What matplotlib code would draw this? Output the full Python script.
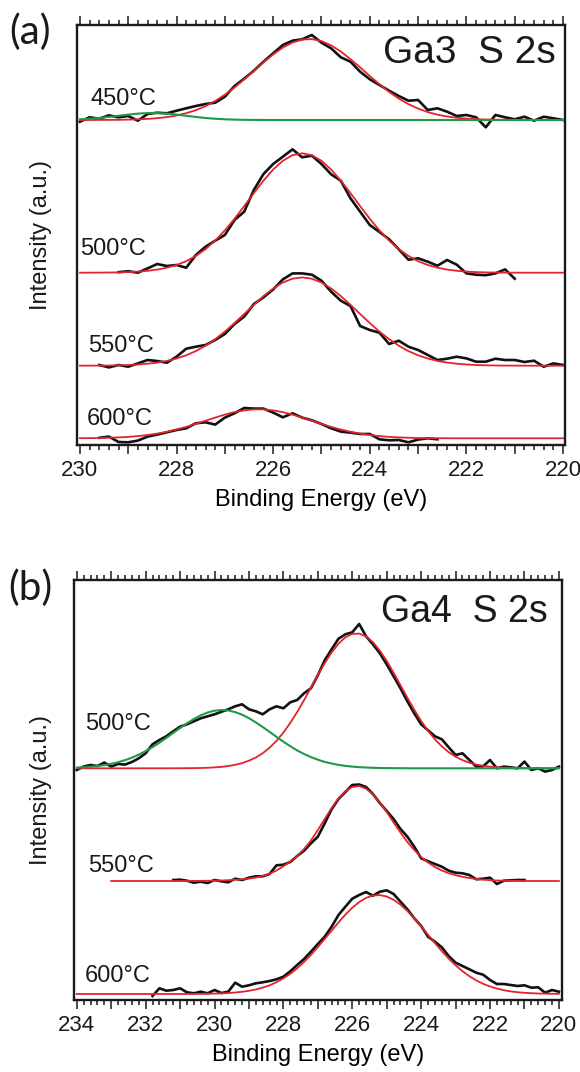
import numpy as np
import matplotlib
matplotlib.use("Agg")
import matplotlib.pyplot as plt
from matplotlib.ticker import MultipleLocator, FuncFormatter

# ------------------------------------------------------------------ data
STEP = 0.2  # eV spacing of the read-off points

# Panel (a): Ga3  S 2s
a_title = "Ga3  S 2s"
a_labels = ["450°C", "500°C", "550°C", "600°C"]
a_offsets = [325.0, 172.3, 79.3, 6.7]
a_black_start = [230.0, 229.2, 229.6, 229.6]
a_fit_start = 230.0

a_black_450 = [-1.7, 2.7, 1.3, 4.7, 2.7, 4.0, -0.7, 6.0, 7.3, 6.7, 9.3, 11.7, 14.0, 16.0, 17.3,
               23.3, 34.0, 41.3, 49.3, 58.3, 66.7, 75.0, 79.3, 80.7, 85.0, 77.3, 71.7, 62.7, 58.3,
               48.3, 40.7, 35.0, 29.3, 24.0, 19.3, 20.0, 10.0, 11.7, 8.3, 4.0, 5.0, 2.7, -7.3, 5.0,
               2.7, 0.7, 3.3, -0.7, 3.3, 1.7, 0.0]
a_black_500 = [0.5, 1.5, 0.0, 4.3, 8.7, 6.7, 7.7, 5.0, 17.7, 26.0, 32.0, 37.7, 52.7, 61.0, 82.7,
               98.7, 108.7, 116.0, 123.4, 115.4, 117.0, 108.7, 98.4, 92.0, 74.4, 61.0, 47.7, 40.7,
               33.4, 23.4, 13.0, 14.4, 11.0, 7.0, 12.7, 8.0, -0.7, -2.0, -2.5, -0.7, 3.3, -6.0]
a_black_550 = [0.7, -1.7, 0.7, -1.0, 2.3, 5.7, 4.7, 3.0, 9.0, 17.0, 19.0, 20.7, 25.7, 31.7, 41.7,
               49.0, 61.7, 68.3, 76.3, 86.3, 92.3, 92.3, 91.0, 85.0, 74.0, 65.0, 59.7, 39.7, 35.7,
               33.0, 21.7, 25.0, 19.0, 15.7, 10.7, 5.7, 7.0, 9.0, 7.3, 4.0, 4.0, 7.0, 5.7, 5.7,
               3.7, 5.0, -1.0, 2.3, 0.7]
a_black_600 = [0.5, 1.7, -3.7, -4.0, -2.3, 1.7, 3.7, 6.0, 8.3, 10.0, 15.0, 16.0, 13.7, 20.7, 25.0,
               30.3, 29.7, 29.7, 25.7, 21.0, 25.0, 20.7, 18.0, 14.3, 10.0, 6.7, 5.7, 4.3, 4.3,
               -1.0, -2.0, -1.7, -4.0, -1.3, 0.0, -1.0]

a_red_450 = [0, 0, 0.1, 0.1, 0.2, 0.4, 0.7, 1.1, 1.8, 2.9, 4.5, 6.8, 9.8, 13.9, 19.0, 25.3, 32.5,
             40.6, 49.1, 57.7, 65.6, 72.4, 77.5, 80.4, 80.9, 78.9, 74.7, 68.5, 60.9, 52.6, 44.0,
             35.7, 28.1, 21.4, 15.8, 11.4, 7.9, 5.3, 3.5, 2.2, 1.4, 0.8, 0.5, 0.3, 0.2, 0.1, 0, 0,
             0, 0, 0]
a_green_450 = [0.7, 1.25, 2.0, 3.1, 4.2, 5.4, 6.4, 6.9, 6.9, 6.4, 5.4, 4.2, 3.1, 2.0, 1.25, 0.7,
               0.37, 0.18, 0.08, 0.03] + [0] * 31
a_red_500 = [0.0, 0.05, 0.1, 0.2, 0.3, 0.6, 1.1, 1.9, 3.1, 5.0, 7.7, 11.5, 16.8, 23.6, 32.1, 42.3,
             53.9, 66.6, 79.6, 92.1, 103.2, 111.9, 117.5, 119.4, 117.5, 111.9, 103.2, 92.1, 79.6,
             66.6, 53.9, 42.3, 32.1, 23.6, 16.8, 11.5, 7.7, 5.0, 3.1, 1.9, 1.1, 0.6, 0.3, 0.2,
             0.1, 0.05, 0, 0, 0, 0, 0]
a_red_550 = [0.03, 0.07, 0.1, 0.2, 0.4, 0.7, 1.2, 2.0, 3.1, 4.8, 7.2, 10.4, 14.6, 20.0, 26.5, 34.1,
             42.6, 51.7, 60.9, 69.6, 77.2, 83.2, 87.0, 88.3, 87.0, 83.2, 77.2, 69.6, 60.9, 51.7,
             42.6, 34.1, 26.5, 20.0, 14.6, 10.4, 7.2, 4.8, 3.1, 2.0, 1.2, 0.7, 0.4, 0.2, 0.1,
             0.07, 0.03, 0, 0, 0, 0]
a_red_600 = [0.1, 0.18, 0.3, 0.55, 0.9, 1.4, 2.2, 3.3, 4.7, 6.5, 8.8, 11.4, 14.4, 17.6, 20.7, 23.7,
             26.2, 27.9, 28.9, 28.9, 27.9, 26.2, 23.7, 20.7, 17.6, 14.4, 11.4, 8.8, 6.5, 4.7, 3.3,
             2.2, 1.4, 0.9, 0.55, 0.3, 0.18, 0.1, 0.05] + [0] * 12

# Panel (b): Ga4  S 2s
b_title = "Ga4  S 2s"
b_labels = ["500°C", "550°C", "600°C"]
b_offsets = [231.7, 119.0, 6.0]
b_black_start = [234.0, 231.2, 231.8]
b_red_start = [234.0, 233.0, 234.0]
b_green_start = 234.0

b_black_500 = [-1.7, 1.7, 3.3, 2.3, 5.7, 1.7, 4.3, 3.7, 6.3, 10.0, 15.0, 24.0, 28.3, 32.0, 37.0,
               41.6, 44.0, 47.0, 50.0, 52.0, 54.0, 56.5, 59.0, 62.0, 64.0, 59.0, 57.0, 54.0, 59.0,
               62.0, 60.0, 66.0, 68.3, 75.0, 80.0, 93.0, 108.0, 119.0, 129.6, 134.0, 136.0, 144.3,
               132.0, 124.0, 115.0, 104.0, 92.0, 80.0, 67.0, 55.0, 44.0, 38.0, 32.0, 29.0, 21.0,
               13.3, 15.0, 8.3, 1.7, 2.0, 8.3, 0.0, 1.7, 1.0, 0.0, 6.7, -1.7, 0.0, -3.3, -1.7, 1.7]
b_black_550 = [1.0, 1.3, 0.3, -1.7, -0.7, -2.0, 1.0, -0.3, -1.3, 2.3, 1.0, 3.3, 4.7, 4.7, 7.0, 15.7,
               16.3, 19.0, 25.0, 30.3, 37.7, 44.3, 57.7, 71.7, 82.0, 89.0, 96.0, 96.5, 94.0, 87.0,
               78.0, 70.0, 62.0, 52.0, 44.3, 34.3, 22.7, 19.7, 17.0, 14.3, 10.3, 8.3, 7.7, 6.0,
               1.7, 2.3, 3.3, -3.0, 0.3, 0.7, 1.0, 1.0]
b_black_600 = [-2.0, 5.7, 3.3, 4.0, 5.7, 1.7, 0.7, 2.3, 0.7, 4.0, 1.0, 2.3, 11.3, 7.3, 8.7, 10.7,
               11.7, 13.0, 14.7, 17.3, 22.7, 29.0, 35.0, 42.3, 50.0, 57.3, 67.3, 79.0, 87.3, 95.3,
               99.0, 102.0, 98.3, 102.3, 103.7, 100.0, 92.3, 84.7, 75.7, 68.0, 57.3, 52.3, 46.7,
               38.0, 31.3, 28.0, 24.7, 21.3, 19.3, 14.0, 10.0, 10.0, 9.0, 8.0, 8.7, 6.3, 6.7, 1.3,
               4.0, 2.3]

b_red_500 = [0] * 10 + [0, 0, 0.01, 0.01, 0.03, 0.06, 0.1, 0.2, 0.3, 0.54, 0.9, 1.4, 2.25, 3.5,
             5.2, 7.6, 10.8, 15.1, 20.6, 27.5, 35.7, 45.4, 56.3, 68.1, 80.6, 93.2, 105.1, 115.8,
             124.6, 131.0, 134.4, 134.7, 131.9, 126.1, 117.7, 107.4, 95.6, 83.1, 70.6, 58.6, 47.4,
             37.5, 29.0, 21.9, 16.1, 11.6, 8.2, 5.6, 3.8, 2.5, 1.6, 1.0, 0.6, 0.36, 0.2, 0.12,
             0.07, 0.04, 0, 0, 0]
b_green_500 = [0.7, 1.06, 1.6, 2.3, 3.2, 4.5, 6.1, 8.1, 10.6, 13.6, 17.2, 21.2, 25.6, 30.4, 35.4,
               40.3, 45.0, 49.3, 53.0, 55.8, 57.6, 58.3, 57.8, 56.2, 53.6, 50.1, 45.9, 41.3, 36.4,
               31.4, 26.6, 22.1, 17.9, 14.3, 11.2, 8.6, 6.4, 4.8, 3.4, 2.4, 1.7, 1.15, 0.8, 0.5,
               0.3, 0.2, 0.13, 0.08, 0.05] + [0] * 22
b_red_550 = [0] * 11 + [0.05, 0.1, 0.15, 0.25, 0.35, 0.5, 0.8, 1.2, 1.7, 2.4, 3.4, 5.0, 7.2, 10.5,
             14.8, 19.5, 25.0, 32.0, 40.5, 51.0, 62.0, 73.0, 82.5, 89.9, 94.0, 95.0, 92.3, 86.7,
             78.4, 69.0, 58.5, 48.5, 39.0, 31.0, 24.0, 18.5, 14.0, 10.5, 7.8, 5.8, 4.2, 3.0, 2.0,
             1.3, 0.8, 0.5, 0.3, 0.2, 0.1] + [0] * 6
b_red_600 = [0] * 15 + [0.03, 0.05, 0.09, 0.15, 0.25, 0.4, 0.63, 0.97, 1.5, 2.2, 3.2, 4.5, 6.4, 8.7,
             11.8, 15.6, 20.2, 25.7, 32.0, 39.1, 46.8, 55.0, 63.4, 71.6, 79.4, 86.3, 91.9, 96.1,
             98.5, 98.9, 97.5, 94.2, 89.3, 83.0, 75.6, 67.6, 59.2, 50.9, 42.9, 35.4, 28.7, 22.8,
             17.8, 13.6, 10.2, 7.5, 5.4, 3.8, 2.6, 1.8, 1.2, 0.8, 0.5, 0.3, 0.2, 0.12]

# ------------------------------------------------------------------ style
plt.rcParams["font.family"] = ["Liberation Sans", "DejaVu Sans"]
BLACK = "#111111"
RED = "#e3242b"
GREEN = "#1e9a44"
W, H = 580, 1072


def energies(start, n):
    return start - STEP * np.arange(n)


def trace(ax, start, vals, offset, color, lw, z):
    v = np.asarray(vals, dtype=float)
    ax.plot(energies(start, len(v)), offset + v, color=color, lw=lw, zorder=z,
            solid_joinstyle="round")


def style_axis(ax, xlim):
    ax.set_xlim(*xlim)
    ax.set_ylim(0, 420)
    ax.set_yticks([])
    ax.xaxis.set_major_locator(MultipleLocator(1))
    ax.xaxis.set_minor_locator(MultipleLocator(0.2))
    ax.xaxis.set_major_formatter(FuncFormatter(
        lambda v, p: f"{v:.0f}" if int(round(v)) % 2 == 0 else ""))
    ax.tick_params(axis="x", which="both", direction="out", top=True, bottom=True,
                   labeltop=False, width=1.1, colors="#1a1a1a")
    ax.tick_params(axis="x", which="major", length=6.5, pad=4, labelsize=16)
    ax.tick_params(axis="x", which="minor", length=3.8)
    for s in ax.spines.values():
        s.set_linewidth(1.7)
        s.set_color("#1a1a1a")
    ax.set_xlabel("Binding Energy (eV)", fontsize=17, labelpad=6)


fig = plt.figure(figsize=(W / 100, H / 100), dpi=100)

# ---------------- panel (a)
ax1 = fig.add_axes([77 / W, 1 - 445 / H, 488 / W, 420 / H])
style_axis(ax1, (230.06, 219.96))
a_black = [a_black_450, a_black_500, a_black_550, a_black_600]
a_red = [a_red_450, a_red_500, a_red_550, a_red_600]
for i in range(4):
    trace(ax1, a_black_start[i], a_black[i], a_offsets[i], BLACK, 1.9, 2)
    trace(ax1, a_fit_start, a_red[i], a_offsets[i], RED, 1.3, 3)
trace(ax1, a_fit_start, a_green_450, a_offsets[0], GREEN, 1.5, 4)
a_label_pos = [(229.79, 340), (230.0, 190), (229.83, 93.3), (229.86, 20)]
for (x, y), t in zip(a_label_pos, a_labels):
    ax1.text(x, y, t, fontsize=17, ha="left", va="baseline", color="#1a1a1a")
ax1.text(0.9816, 0.9095, a_title, transform=ax1.transAxes, ha="right", va="baseline",
         fontsize=28, color="#1a1a1a")

# ---------------- panel (b)
ax2 = fig.add_axes([74 / W, 1 - 1000 / H, 488 / W, 420 / H])
style_axis(ax2, (234.08, 219.91))
b_black = [b_black_500, b_black_550, b_black_600]
b_red = [b_red_500, b_red_550, b_red_600]
for i in range(3):
    trace(ax2, b_black_start[i], b_black[i], b_offsets[i], BLACK, 1.9, 2)
    trace(ax2, b_red_start[i], b_red[i], b_offsets[i], RED, 1.3, 3)
trace(ax2, b_green_start, b_green_500, b_offsets[0], GREEN, 1.5, 4)
b_label_pos = [(233.76, 270), (233.67, 128.3), (233.76, 18.3)]
for (x, y), t in zip(b_label_pos, b_labels):
    ax2.text(x, y, t, fontsize=17, ha="left", va="baseline", color="#1a1a1a")
ax2.text(0.9713, 0.90, b_title, transform=ax2.transAxes, ha="right", va="baseline",
         fontsize=27, color="#1a1a1a")

# ---------------- shared text
for yc in (235, 790):
    fig.text(41 / W, 1 - yc / H, "Intensity (a.u.)", rotation=90, ha="center", va="center",
             fontsize=17, color="#1a1a1a")
fig.text(9 / W, 1 - 32 / H, "(a)", fontsize=29, family=["Lato", "DejaVu Sans"],
         ha="left", va="center", color="#1a1a1a")
fig.text(8 / W, 1 - 588 / H, "(b)", fontsize=29, family=["Lato", "DejaVu Sans"],
         ha="left", va="center", color="#1a1a1a")

fig.savefig("out.png", dpi=100, facecolor="white")
